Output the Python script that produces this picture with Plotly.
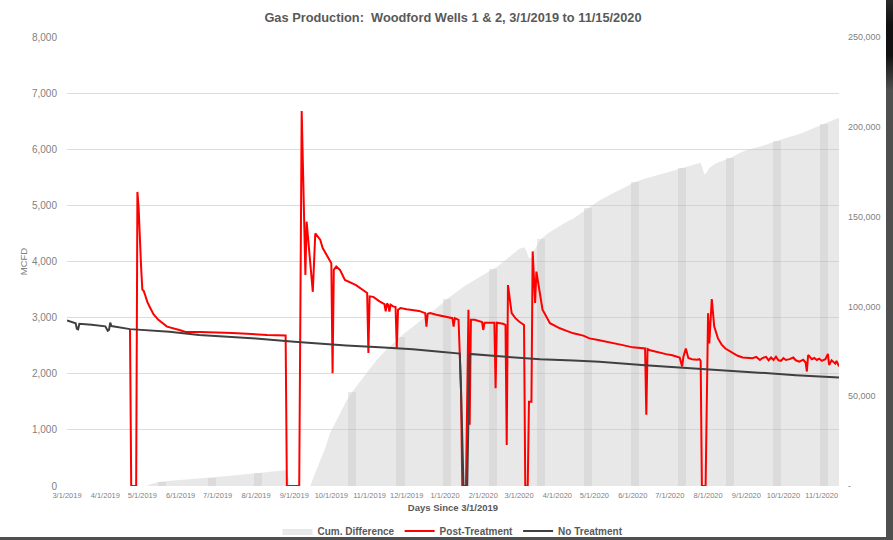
import pandas as pd
import plotly.graph_objects as go

# ---------------- data ----------------
START = pd.Timestamp("2019-03-01")

tick_labels = ["3/1/2019", "4/1/2019", "5/1/2019", "6/1/2019", "7/1/2019", "8/1/2019",
               "9/1/2019", "10/1/2019", "11/1/2019", "12/1/2019", "1/1/2020", "2/1/2020",
               "3/1/2020", "4/1/2020", "5/1/2020", "6/1/2020", "7/1/2020", "8/1/2020",
               "9/1/2020", "10/1/2020", "11/1/2020"]

right_tick_values = [0, 50000, 100000, 150000, 200000, 250000]
right_tick_labels = ["-", "50,000", "100,000", "150,000", "200,000", "250,000"]

# Cum. Difference (right axis) -- days since 3/1/2019
cum_days = [0, 64, 68, 72, 75, 77, 92, 113, 117, 130, 151, 155, 165, 178, 180, 181, 196, 197,
            200, 205, 209, 213, 219, 226, 231, 240, 247, 253, 260, 267, 270, 273, 280, 287,
            294, 300, 308, 314, 321, 327, 334, 341, 345, 348, 355, 361, 366, 370, 372, 374,
            376, 378, 384, 390, 397, 404, 410, 422, 431, 440, 450, 460, 467, 475, 485, 495,
            498, 505, 513, 514, 516, 518, 520, 525, 532, 537, 545, 550, 561, 570, 575, 580,
            593, 600, 613, 618, 625]
cum_values = [0, 0, 1000, 1900, 2400, 2500, 3300, 4300, 4600, 5600, 7000, 7300, 8000, 8900,
              2000, 0, 0, 0, 5500, 14000, 21000, 29500, 38000, 47000, 52500, 61000, 67000,
              72000, 77000, 81000, 83000, 85000, 88700, 92500, 96000, 99500, 104200, 107500,
              111000, 113500, 116500, 119500, 120800, 122000, 126000, 129600, 132000, 133000,
              131000, 126800, 127500, 131000, 137600, 141000, 144000, 146800, 149000, 154700,
              159000, 162300, 166000, 169300, 171000, 172500, 174000, 176300, 177000, 178500,
              180000, 178000, 173500, 174500, 177000, 179500, 181500, 182600, 185500, 187000,
              189000, 191200, 192000, 193300, 196000, 198000, 201500, 203000, 205000]

# positions of the darker vertical stripes seen in the cumulative area
stripe_days = [77, 117, 155, 231, 270, 308, 345, 384, 422, 460, 498, 537, 575, 613]

# Post-Treatment (MCFD)
post_days = [51, 52, 56, 57, 58, 59, 60, 61, 62, 63, 65, 67, 70, 74, 81, 91, 96, 108, 134, 162,
             177, 178, 188, 190, 193, 194, 199, 201, 205, 207, 213, 214, 215, 216, 218, 221, 225,
             234, 243, 244, 245, 248, 253, 257, 258, 259, 260, 261, 262, 264, 266, 267, 268, 270,
             275, 280, 285, 290, 291, 292, 294, 299, 307, 312, 313, 314, 317, 319, 320, 323, 325,
             326, 327, 330, 336, 337, 338, 346, 347, 348, 353, 355, 356, 357, 360, 363, 366, 370,
             371, 373, 374, 376, 377, 379, 380, 381, 383, 385, 391, 399, 405, 410, 418, 423, 430,
             437, 445, 450, 458, 464, 468, 469, 470, 472, 477, 485, 490, 496, 498, 499, 501, 503,
             506, 510, 512, 513, 514, 517, 519, 520, 522, 524, 527, 530, 533, 539, 543, 547, 551,
             555, 558, 561, 563, 566, 568, 570, 572, 574, 576, 578, 580, 582, 585, 588, 590, 593,
             596, 598, 599, 600, 603, 605, 607, 609, 611, 614, 616, 617, 619, 620, 622, 623, 625]
post_values = [2795, 0, 0, 5240, 4950, 4200, 3900, 3500, 3480, 3420, 3280, 3190, 3060, 2960,
               2840, 2780, 2745, 2745, 2727, 2690, 2680, 0, 0, 6680, 3760, 4710, 3460, 4500,
               4390, 4240, 3990, 3970, 2010, 3850, 3910, 3850, 3670, 3580, 3440, 2370, 3380,
               3370, 3290, 3240, 3110, 3250, 3230, 3110, 3230, 3200, 3190, 2450, 3140, 3170,
               3150, 3140, 3120, 3080, 2840, 3070, 3080, 3050, 3010, 2990, 2840, 2990, 2960,
               1700, 0, 0, 3140, 1090, 2960, 2960, 2920, 2780, 2910, 2910, 1740, 2910, 2890,
               2870, 730, 3580, 3080, 2990, 2930, 2870, 0, 0, 1500, 1500, 4180, 3260, 3820,
               3670, 3430, 3140, 2900, 2810, 2760, 2720, 2680, 2630, 2600, 2570, 2540, 2510,
               2470, 2460, 2450, 1270, 2440, 2420, 2390, 2350, 2330, 2290, 2130, 2300, 2450,
               2280, 2260, 2250, 2260, 2230, 0, 0, 3080, 2540, 3330, 2840, 2630, 2520, 2450,
               2365, 2320, 2290, 2280, 2276, 2300, 2246, 2280, 2300, 2240, 2290, 2246, 2305,
               2240, 2230, 2280, 2246, 2260, 2290, 2240, 2216, 2250, 2200, 2040, 2335, 2260,
               2280, 2246, 2270, 2230, 2260, 2353, 2157, 2240, 2216, 2180, 2230, 2130]

# No Treatment (MCFD)
base_days = [0, 7, 8, 9, 10, 20, 31, 33, 34, 35, 36, 51, 83, 107, 130, 153, 184, 205, 226, 253,
             280, 302, 317, 318, 319, 321, 324, 326, 350, 383, 410, 431, 468, 490, 512, 540,
             560, 590, 625]
base_values = [2950, 2900, 2800, 2790, 2890, 2875, 2845, 2765, 2780, 2910, 2850, 2795, 2750,
               2692, 2660, 2630, 2572, 2535, 2505, 2470, 2437, 2394, 2365, 2360, 1711, 0, 0,
               2353, 2310, 2258, 2235, 2216, 2150, 2120, 2098, 2060, 2020, 1975, 1935]


def to_dates(days):
    return START + pd.to_timedelta(days, unit="D")


tick_vals = pd.to_datetime(tick_labels, format="%m/%d/%Y")
cum_lookup = dict(zip(cum_days, cum_values))
stripe_heights = [cum_lookup[d] for d in stripe_days]

# ---------------- figure ----------------
FONT = "Liberation Sans, Arial, sans-serif"
W, H = 886, 537          # white card; the dark screenshot border comes from the page background
fig = go.Figure()

fig.add_trace(go.Scatter(
    x=to_dates(cum_days), y=cum_values, name="Cum. Difference",
    mode="lines", line=dict(width=0, color="rgba(200,200,200,0.42)"),
    fill="tozeroy", fillcolor="rgba(200,200,200,0.42)",
    yaxis="y", hoverinfo="skip",
))

fig.add_trace(go.Bar(
    x=to_dates(stripe_days), y=stripe_heights, width=6.5 * 86400000,
    marker=dict(color="rgba(130,130,130,0.18)", line=dict(width=0)),
    showlegend=False, hoverinfo="skip", yaxis="y",
))

fig.add_trace(go.Scatter(
    x=to_dates(post_days), y=post_values, name="Post-Treatment",
    mode="lines", line=dict(color="#ff0000", width=2),
    yaxis="y2",
))

fig.add_trace(go.Scatter(
    x=to_dates(base_days), y=base_values, name="No Treatment",
    mode="lines", line=dict(color="#404040", width=2),
    yaxis="y2",
))

fig.update_layout(
    width=W, height=H,
    margin=dict(l=67, r=W - 839, t=37, b=H - 486, autoexpand=False),
    paper_bgcolor="white", plot_bgcolor="white",
    font=dict(family=FONT, color="#7f7f7f"),
    title=dict(text="<b>Gas Production:\u00a0 Woodford Wells 1 &amp; 2, 3/1/2019 to 11/15/2020</b>",
               x=0.5, xref="paper", xanchor="center", y=1 - 18 / H, yanchor="middle",
               font=dict(size=12.8, color="#595959")),
    xaxis=dict(type="date", range=[START, to_dates([625])[0]],
               tickmode="array", tickvals=tick_vals, ticktext=tick_labels,
               tickfont=dict(size=7.5, color="#7f7f7f"), ticklabelstandoff=3,
               showgrid=False, showline=False, zeroline=False, ticks="", automargin=False,
               title=dict(text="<b>Days Since 3/1/2019</b>", standoff=5,
                          font=dict(size=9.5, color="#595959"))),
    yaxis=dict(side="right", range=[0, 250000], tickmode="array",
               tickvals=right_tick_values, ticktext=right_tick_labels,
               tickfont=dict(size=9, color="#7f7f7f"), ticklabelstandoff=8,
               showgrid=False, zeroline=False, showline=False, ticks="", automargin=False),
    yaxis2=dict(side="left", overlaying="y", range=[0, 8000], dtick=1000,
                tickformat=",", tickfont=dict(size=10, color="#7f7f7f"), ticklabelstandoff=9,
                showgrid=True, gridcolor="#dcdcdc", gridwidth=1, automargin=False,
                zeroline=False, showline=False, ticks="",
                title=dict(text="MCFD", standoff=2, font=dict(size=9.5, color="#7f7f7f"))),
    legend=dict(orientation="h", x=0.5, xanchor="center", y=(486 - 531) / 449,
                yanchor="middle", font=dict(size=10, color="#595959", family=FONT,
                                            weight="bold"),
                itemwidth=30, bgcolor="rgba(0,0,0,0)"),
    showlegend=True, bargap=0,
)

# page: no default body margin; dark background shows as the screenshot's right/bottom border
post = ("document.body.style.margin='0';"
        "document.body.style.overflow='hidden';"
        "document.body.style.background="
        "'linear-gradient(to bottom,#2a2a2a 0px,#111 25px,#111 55px,#4f4f4f 90px,#4f4f4f 100%)';")
fig.write_html("out.html", config={"displayModeBar": False}, post_script=post)
